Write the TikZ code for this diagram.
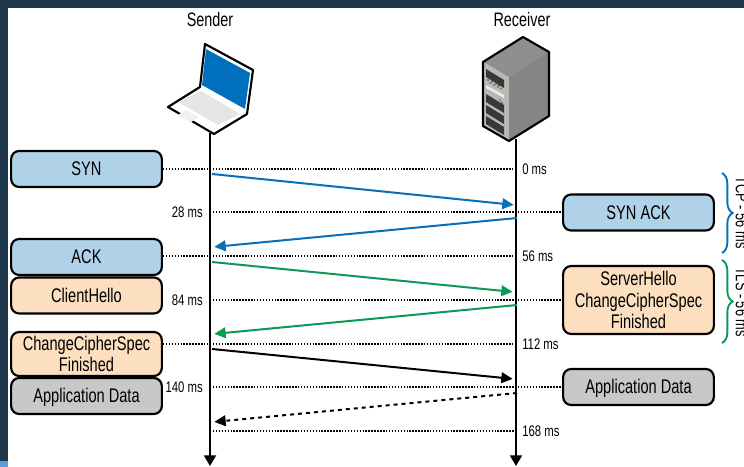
\documentclass[tikz,border=0pt]{standalone}
\usepackage{fontspec}
\setmainfont[FakeStretch=0.74]{Liberation Sans}
\usetikzlibrary{arrows.meta,decorations.pathreplacing}
\definecolor{frame}{HTML}{1C374C}
\definecolor{cornerblue}{HTML}{5A9FD8}
\definecolor{bluefill}{HTML}{AFD2E9}
\definecolor{orangefill}{HTML}{FCDFBF}
\definecolor{greyfill}{HTML}{C8C8C8}
\definecolor{bluearrow}{HTML}{0A6FB8}
\definecolor{greenarrow}{HTML}{0A9A56}
\definecolor{screen}{HTML}{0070BD}
\newcommand{\nodepth}[1]{\rule{0pt}{10.4pt}\smash{#1}}
\tikzset{
  msgbox/.style={draw=black,line width=1.6pt,rounded corners=6pt,minimum width=113pt,align=center,font=\fontsize{14.8}{16}\selectfont,inner sep=0pt},
  tlab/.style={font=\fontsize{11.5}{13}\selectfont,inner sep=0pt},
  sidelab/.style={font=\fontsize{13}{15}\selectfont,inner sep=0pt,rotate=-90,anchor=south},
  head/.style={font=\fontsize{14.6}{16}\selectfont,inner sep=0pt},
  timeline/.style={line width=1.5pt,-{Triangle[length=8pt,width=9pt]}},
  dots/.style={line width=1.2pt,dash pattern=on 1.1pt off 1.1pt},
  msg/.style={line width=1.5pt,-{Triangle[length=8.5pt,width=8pt]},shorten >=1pt},
  bracestyle/.style={line width=1.4pt,decorate,decoration={brace,amplitude=8pt,aspect=0.5}}
}
\begin{document}
\begin{tikzpicture}[x=0.75pt,y=-0.75pt]
\useasboundingbox (0,0) rectangle (744,467);
\fill[white] (0,0) rectangle (744,467);
\fill[frame] (0,0) rectangle (744,8);
\fill[frame] (0,0) rectangle (8,461);
\fill[cornerblue] (0,461) rectangle (8,467);

\node[head] (sender) at (210,20) {Sender};
\node[head] (receiver) at (522,20) {Receiver};

% laptop
\filldraw[fill=white,draw=black,line width=1.6pt,line join=round] (205,44) -- (253,70) -- (247,114) -- (214,134) -- (168,107) -- (200,87) -- cycle;
\fill[screen] (206,49) -- (250,73) -- (245,109) -- (202,85) -- cycle;
\fill[black!10] (201,91) -- (240,114) -- (218,125) -- (178,102) -- cycle;
\fill[black!6] (186,110) -- (199,117) -- (191,122) -- (178,115) -- cycle;
\coordinate (laptopbase) at (210,133);

% server
\fill[black!45] (483,62) -- (523,37) -- (549,52) -- (549,116) -- (509,141) -- (483,126) -- cycle;
\fill[black!28] (484,62) -- (509,77) -- (509,141) -- (484,126) -- cycle;
\fill[black!44] (484,62) -- (523,38) -- (548,52) -- (509,77) -- cycle;
\fill[black!48] (509,77) -- (549,52) -- (549,116) -- (509,141) -- cycle;
\fill[black!78] (486,69) -- (504,80) -- (504,88) -- (486,77) -- cycle;
\fill[black!78] (486,94) -- (504,105) -- (504,113) -- (486,102) -- cycle;
\fill[black!78] (486,105) -- (504,116) -- (504,124) -- (486,113) -- cycle;
\fill[black!78] (486,116) -- (504,127) -- (504,135) -- (486,124) -- cycle;
\fill[black!8] (486,85) -- (504,95) -- (504,98) -- (486,88) -- cycle;
\foreach \p in {488,492,496,499}{\fill[red!70!black] (\p,79+\p/2-243) circle (.8);\fill[green!60!black] (\p+2,80+\p/2-241) circle (.8);}
\fill[green!60!black] (500,100) circle (.9);\fill[red!70!black] (502,103) circle (.9);
\draw[black,line width=1.6pt,line join=round] (483,62) -- (523,37) -- (549,52) -- (549,116) -- (509,141) -- (483,126) -- cycle;
\coordinate (serverbase) at (516,139);

% boxes
\node[msgbox,fill=bluefill,minimum height=27pt] (syn) at (86.5,169) {SYN};
\node[msgbox,fill=bluefill,minimum height=27pt] (synack) at (638.5,212.5) {SYN ACK};
\node[msgbox,fill=bluefill,minimum height=27pt] (ack) at (86.5,257) {ACK};
\node[msgbox,fill=orangefill,minimum height=27pt] (chello) at (86.5,295.5) {ClientHello};
\node[msgbox,fill=orangefill,minimum height=51pt] (shello) at (638.5,300) {ServerHello\\ChangeCipherSpec\\Finished};
\node[msgbox,fill=orangefill,minimum height=33pt] (ccs) at (86.5,354) {ChangeCipherSpec\\Finished};
\node[msgbox,fill=greyfill,minimum height=27pt] (appl) at (86.5,396) {\nodepth{Application Data}};
\node[msgbox,fill=greyfill,minimum height=27pt] (appr) at (638.5,387) {\nodepth{Application Data}};

% time labels
\node[tlab,anchor=west] (t0) at (522,169) {0 ms};
\node[tlab,anchor=east] (t28) at (203,212.5) {28 ms};
\node[tlab,anchor=west] (t56) at (522,256.5) {56 ms};
\node[tlab,anchor=east] (t84) at (203,300) {84 ms};
\node[tlab,anchor=west] (t112) at (522,344) {112 ms};
\node[tlab,anchor=east] (t140) at (203,387.5) {140 ms};
\node[tlab,anchor=west] (t168) at (522,431.5) {168 ms};

% coordinates on time lines
\coordinate (s0) at (210,169); \coordinate (r0) at (516,169);
\coordinate (s28) at (210,212); \coordinate (r28) at (516,212);
\coordinate (s56) at (210,256); \coordinate (r56) at (516,256);
\coordinate (s84) at (210,300); \coordinate (r84) at (516,300);
\coordinate (s112) at (210,344); \coordinate (r112) at (516,344);
\coordinate (s140) at (210,387); \coordinate (r140) at (516,387);
\coordinate (s168) at (210,431); \coordinate (r168) at (516,431);

% dotted
\draw[dots] (syn.east) -- (r0);
\draw[dots] (s28) -- (r28) -- (synack.west |- r28);
\draw[dots] (ack.east |- s56) -- (r56);
\draw[dots] (s84) -- (r84) -- (shello.west);
\draw[dots] (ccs.east |- s112) -- (r112);
\draw[dots] (s140) -- (r140) -- (appr.west |- r140);
\draw[dots] (s168) -- (r168);

% life lines
\coordinate (send) at (210,466); \coordinate (rend) at (516,466);
\draw[timeline] (laptopbase) -- (send);
\draw[timeline] (serverbase) -- (rend);

% messages
\coordinate (a1) at (212,174); \coordinate (a1e) at (515,205);
\coordinate (a2) at (517,218); \coordinate (a2e) at (213,247);
\coordinate (a3) at (212,262); \coordinate (a3e) at (514,292);
\coordinate (a4) at (517,305); \coordinate (a4e) at (213,334);
\coordinate (a5) at (212,349); \coordinate (a5e) at (514,379);
\coordinate (a6) at (517,393); \coordinate (a6e) at (213,422);
\draw[msg,bluearrow] (a1) -- (a1e);
\draw[msg,bluearrow] (a2) -- (a2e);
\draw[msg,greenarrow] (a3) -- (a3e);
\draw[msg,greenarrow] (a4) -- (a4e);
\draw[msg,black] (a5) -- (a5e);
\draw[msg,black,dashed] (a6) -- (a6e);

% braces
\coordinate (b1t) at (722,173); \coordinate (b1b) at (722,253);
\coordinate (b2t) at (722,260); \coordinate (b2b) at (722,343);
\draw[bluearrow,bracestyle] (b1t) -- (b1b);
\draw[greenarrow,bracestyle] (b2t) -- (b2b);
\node[sidelab] (tcp) at (735.5,212.5) {TCP - 56 ms};
\node[sidelab] (tls) at (735.5,302) {TLS - 56 ms};
\end{tikzpicture}
\end{document}
